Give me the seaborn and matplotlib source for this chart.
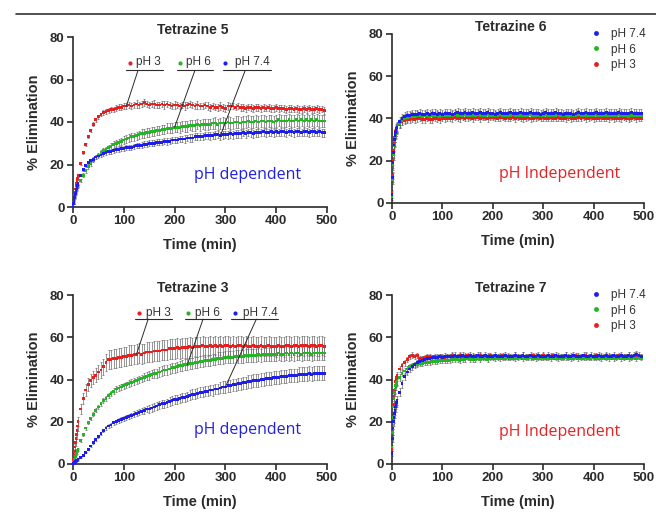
import numpy as np
import pandas as pd
import seaborn as sns
import matplotlib.pyplot as plt
from matplotlib.lines import Line2D

# sampling times (min): every minute for the first 10, then every 5 min
time_min = [0, 1, 2, 3, 4, 5, 6, 7, 8, 9, 10,
            15, 20, 25, 30, 35, 40, 45, 50, 55, 60,
            65, 70, 75, 80, 85, 90, 95, 100, 105, 110,
            115, 120, 125, 130, 135, 140, 145, 150, 155, 160,
            165, 170, 175, 180, 185, 190, 195, 200, 205, 210,
            215, 220, 225, 230, 235, 240, 245, 250, 255, 260,
            265, 270, 275, 280, 285, 290, 295, 300, 305, 310,
            315, 320, 325, 330, 335, 340, 345, 350, 355, 360,
            365, 370, 375, 380, 385, 390, 395, 400, 405, 410,
            415, 420, 425, 430, 435, 440, 445, 450, 455, 460,
            465, 470, 475, 480, 485, 490, 495]

# ---- Tetrazine 5 ----
t5_ph3 = [0, 2, 4, 5.5, 7, 8.5, 10, 11, 12.5, 13.5, 15,
          20.5, 25.5, 29.5, 33, 36, 39, 41, 42.5, 43.5, 44.5,
          45, 45.5, 46, 46, 46.5, 47, 47, 47.5, 47.5, 48,
          47.5, 48, 48.5, 48, 48.5, 49, 48.5, 48, 48.5, 48.5,
          48, 48, 48.5, 48, 48.5, 48, 47.5, 48, 48, 47.5,
          48, 47.5, 48, 48.5, 48, 47.5, 48, 47.5, 47.5, 48,
          47.5, 47, 47.5, 47, 47, 47.5, 47, 46.5, 47.5, 47.5,
          47.5, 47, 47.5, 47, 47, 46.5, 47, 47, 46.5, 47,
          47, 46.5, 47, 46.5, 47, 46.5, 46.5, 47, 46.5, 46.5,
          46.5, 46, 46.5, 46.5, 46, 46.5, 46, 46, 46.5, 46,
          46.5, 46, 46, 46.5, 46, 46, 45.5]
t5_ph3_sd = [0.3, 0.4, 0.4, 0.5, 0.5, 0.5, 0.6, 0.6, 0.6, 0.7, 0.7,
             0.5, 0.6, 0.6, 0.7, 0.7, 0.8, 0.8, 0.9, 0.9, 1.0,
             1.1, 1.1, 1.2, 1.2, 1.3, 1.3, 1.4, 1.4, 1.5, 1.4,
             1.6, 1.5, 1.7, 1.6, 1.6, 1.7, 1.6, 1.5, 1.6, 1.7,
             1.6, 1.5, 1.6, 1.7, 1.6, 1.5, 1.6, 1.7, 1.6, 1.5,
             1.6, 1.7, 1.6, 1.5, 1.6, 1.6, 1.7, 1.6, 1.5, 1.6,
             1.7, 1.6, 1.6, 1.5, 1.6, 1.7, 1.6, 1.6, 1.7, 1.6,
             1.6, 1.5, 1.6, 1.7, 1.6, 1.6, 1.5, 1.6, 1.7, 1.6,
             1.6, 1.7, 1.6, 1.5, 1.6, 1.6, 1.7, 1.6, 1.6, 1.5,
             1.6, 1.6, 1.7, 1.6, 1.5, 1.6, 1.6, 1.7, 1.6, 1.6,
             1.5, 1.6, 1.7, 1.6, 1.6, 1.5, 1.6]
t5_ph6 = [0, 1.5, 3, 4, 5, 6, 7, 8, 8.5, 9.5, 10,
          12.5, 15, 17, 19, 20.5, 22, 23.5, 24.5, 25.5, 26.5,
          27, 28, 28.5, 29.5, 30, 30.5, 31, 31.5, 32, 32.5,
          33, 33, 33.5, 34, 34.5, 34.5, 35, 35, 35.5, 35.5,
          36, 36, 36.5, 36.5, 37, 37, 37, 37.5, 37.5, 37.5,
          38, 38, 38, 38.5, 38.5, 38.5, 39, 38.5, 39, 39,
          39, 39, 39.5, 39.5, 39, 39.5, 39.5, 39.5, 40, 39.5,
          39.5, 40, 40, 39.5, 40, 40, 40.5, 40, 40, 40.5,
          40, 40.5, 40.5, 40, 40.5, 40.5, 40, 40.5, 41, 40.5,
          40.5, 40.5, 41, 40.5, 40.5, 41, 40.5, 41, 40.5, 41,
          40.5, 41, 40.5, 41, 40.5, 40.5, 40.5]
t5_ph6_sd = [0.3, 0.3, 0.4, 0.4, 0.5, 0.5, 0.5, 0.6, 0.6, 0.6, 0.7,
             0.8, 0.8, 0.9, 0.9, 1.0, 1.0, 1.1, 1.1, 1.2, 1.2,
             1.3, 1.4, 1.4, 1.5, 1.5, 1.6, 1.6, 1.7, 1.7, 1.8,
             1.8, 1.9, 1.9, 2.0, 2.0, 2.1, 2.1, 2.2, 2.1, 2.2,
             2.2, 2.3, 2.2, 2.3, 2.3, 2.4, 2.3, 2.4, 2.4, 2.5,
             2.4, 2.5, 2.5, 2.4, 2.5, 2.6, 2.5, 2.6, 2.5, 2.6,
             2.6, 2.5, 2.6, 2.7, 2.6, 2.6, 2.7, 2.6, 2.7, 2.7,
             2.6, 2.7, 2.8, 2.7, 2.7, 2.8, 2.7, 2.8, 2.7, 2.8,
             2.8, 2.7, 2.8, 2.8, 2.9, 2.8, 2.8, 2.9, 2.8, 2.8,
             2.9, 2.8, 2.8, 2.9, 2.8, 2.9, 2.8, 2.9, 2.9, 2.8,
             2.9, 2.8, 2.9, 2.8, 2.9, 2.8, 2.9]
t5_ph74 = [0, 1.5, 3, 4.5, 5.5, 6.5, 7.5, 8.5, 9.5, 10, 11,
           15, 17.5, 19.5, 21, 22, 22.5, 23.5, 24, 24.5, 25,
           25.5, 26, 26, 26.5, 27, 27, 27.5, 27.5, 28, 28,
           28, 28.5, 29, 29, 29, 29.5, 29.5, 30, 30, 30,
           30.5, 30.5, 30.5, 31, 31, 31, 31.5, 31.5, 31.5, 32,
           32, 32, 32.5, 32.5, 32.5, 33, 33, 33, 33, 33.5,
           33.5, 33.5, 33.5, 34, 34, 33.5, 34, 34, 34, 34.5,
           34, 34.5, 34.5, 34.5, 35, 34.5, 35, 35, 34.5, 35,
           35, 35, 35.5, 35, 35, 35.5, 35, 35.5, 35, 35.5,
           35.5, 35, 35.5, 35.5, 35, 35.5, 35.5, 35, 35.5, 35.5,
           35, 35.5, 35.5, 35, 35.5, 35, 35]
t5_ph74_sd = [0.3, 0.3, 0.3, 0.4, 0.4, 0.4, 0.5, 0.5, 0.5, 0.5, 0.6,
              0.6, 0.7, 0.7, 0.7, 0.8, 0.8, 0.8, 0.9, 0.9, 0.9,
              1.0, 1.0, 1.0, 1.1, 1.1, 1.1, 1.2, 1.2, 1.2, 1.2,
              1.3, 1.3, 1.3, 1.3, 1.4, 1.4, 1.4, 1.4, 1.4, 1.5,
              1.5, 1.5, 1.5, 1.5, 1.6, 1.5, 1.6, 1.6, 1.6, 1.6,
              1.6, 1.7, 1.6, 1.7, 1.7, 1.7, 1.6, 1.7, 1.7, 1.7,
              1.7, 1.8, 1.7, 1.8, 1.7, 1.8, 1.8, 1.7, 1.8, 1.8,
              1.8, 1.8, 1.9, 1.8, 1.8, 1.9, 1.8, 1.9, 1.8, 1.9,
              1.9, 1.8, 1.9, 1.9, 1.8, 1.9, 1.9, 1.9, 1.8, 1.9,
              1.9, 1.9, 1.8, 1.9, 1.9, 1.9, 1.9, 1.8, 1.9, 1.9,
              1.9, 1.9, 1.9, 1.8, 1.9, 1.9, 1.9]

# ---- Tetrazine 6 ----
t6_ph74 = [4, 12, 19, 24, 27.5, 30, 32, 33.5, 34.5, 35.5, 36,
           38.5, 40, 41, 41.5, 41.5, 42, 42, 42, 42.5, 42,
           42, 42.5, 42, 42.5, 42.5, 42, 42.5, 42, 42.5, 42.5,
           42.5, 42, 42.5, 43, 42.5, 42.5, 43, 42.5, 42.5, 43,
           42.5, 42.5, 43, 42.5, 42.5, 43, 42.5, 42.5, 42, 42.5,
           43, 42.5, 42.5, 42.5, 43, 42.5, 42.5, 42.5, 43, 42.5,
           42.5, 42.5, 43, 42.5, 42.5, 42.5, 42, 42.5, 43, 42.5,
           42.5, 42.5, 43, 42.5, 42.5, 42, 42.5, 42.5, 42.5, 42,
           42.5, 43, 42.5, 42.5, 43, 42.5, 42.5, 42.5, 43, 42.5,
           42.5, 42.5, 43, 42.5, 42.5, 42.5, 42.5, 43, 42.5, 42.5,
           42.5, 42.5, 43, 42.5, 42.5, 42.5, 42.5]
t6_ph74_sd = [1.5, 2.0, 2.5, 2.8, 3.0, 3.0, 3.0, 2.8, 2.8, 2.6, 2.5,
              2.4, 2.3, 2.2, 2.2, 2.1, 2.1, 2.0, 2.1, 2.0, 2.0,
              2.1, 2.0, 2.0, 2.1, 2.0, 2.0, 2.1, 2.0, 2.1, 2.0,
              2.0, 2.1, 2.0, 2.0, 2.1, 2.0, 2.1, 2.0, 2.0, 2.1,
              2.0, 2.1, 2.0, 2.0, 2.1, 2.0, 2.0, 2.1, 2.0, 2.0,
              2.1, 2.0, 2.0, 2.1, 2.0, 2.1, 2.0, 2.0, 2.1, 2.0,
              2.0, 2.1, 2.0, 2.0, 2.1, 2.0, 2.0, 2.1, 2.0, 2.1,
              2.0, 2.0, 2.1, 2.0, 2.0, 2.1, 2.0, 2.0, 2.1, 2.0,
              2.1, 2.0, 2.0, 2.1, 2.0, 2.0, 2.1, 2.0, 2.0, 2.1,
              2.0, 2.0, 2.1, 2.0, 2.1, 2.0, 2.0, 2.1, 2.0, 2.0,
              2.1, 2.0, 2.0, 2.1, 2.0, 2.0, 2.1]
t6_ph6 = [3, 11, 18, 23, 27, 29.5, 31.5, 33, 34, 35, 35.5,
          37.5, 39, 40, 40.5, 41, 41, 41, 41.5, 41.5, 41,
          41.5, 41.5, 41, 41.5, 41.5, 41.5, 41, 41.5, 41.5, 41.5,
          41.5, 41.5, 42, 41.5, 41.5, 41.5, 42, 41.5, 41.5, 41.5,
          41.5, 42, 41.5, 41.5, 41.5, 42, 41.5, 41.5, 41.5, 41.5,
          42, 41.5, 41.5, 41.5, 41.5, 42, 41.5, 41.5, 41.5, 41.5,
          41.5, 41.5, 42, 41.5, 41.5, 41.5, 41.5, 41.5, 42, 41.5,
          41.5, 41.5, 41.5, 42, 41.5, 41.5, 41.5, 41, 41.5, 41.5,
          41.5, 42, 41.5, 41.5, 41.5, 41.5, 41.5, 41.5, 42, 41.5,
          41.5, 41.5, 41.5, 41.5, 41.5, 41.5, 41.5, 42, 41.5, 41.5,
          41.5, 41, 41.5, 41.5, 41.5, 41.5, 41.5]
t6_ph6_sd = [1.5, 2.0, 2.4, 2.6, 2.8, 2.8, 2.7, 2.6, 2.5, 2.4, 2.3,
             2.2, 2.1, 2.0, 2.0, 1.9, 1.9, 1.8, 1.9, 1.8, 1.8,
             1.9, 1.8, 1.8, 1.9, 1.8, 1.9, 1.8, 1.8, 1.9, 1.8,
             1.8, 1.9, 1.8, 1.8, 1.9, 1.8, 1.8, 1.9, 1.8, 1.9,
             1.8, 1.8, 1.9, 1.8, 1.8, 1.9, 1.8, 1.8, 1.9, 1.8,
             1.9, 1.8, 1.8, 1.9, 1.8, 1.8, 1.9, 1.8, 1.8, 1.9,
             1.8, 1.8, 1.9, 1.8, 1.9, 1.8, 1.8, 1.9, 1.8, 1.8,
             1.9, 1.8, 1.8, 1.9, 1.8, 1.8, 1.9, 1.8, 1.9, 1.8,
             1.8, 1.9, 1.8, 1.8, 1.9, 1.8, 1.8, 1.9, 1.8, 1.8,
             1.9, 1.8, 1.8, 1.9, 1.8, 1.9, 1.8, 1.8, 1.9, 1.8,
             1.8, 1.9, 1.8, 1.8, 1.9, 1.8, 1.8]
t6_ph3 = [5, 13, 20, 25, 28.5, 31, 33, 34, 35, 35.5, 36,
          37, 38.5, 39, 39.5, 39.5, 40, 39.5, 40, 40, 39.5,
          39.5, 40, 39.5, 39.5, 40, 40, 39.5, 40, 40, 40,
          40, 40, 40.5, 40, 40, 40.5, 40, 40.5, 40.5, 40,
          40.5, 40.5, 40, 40.5, 40.5, 40, 40.5, 40.5, 40.5, 40,
          40.5, 40.5, 40, 40.5, 40, 40.5, 40, 40.5, 40, 40,
          40, 40.5, 40, 40, 40.5, 40.5, 40, 40.5, 40, 40,
          40.5, 40, 40, 40.5, 40, 40, 40, 40.5, 40, 40,
          40, 40.5, 40, 40.5, 40, 40, 40.5, 40, 40, 40,
          40.5, 40, 40, 40, 40.5, 40, 40, 40, 40, 40.5,
          40, 40, 40, 40.5, 40, 40, 40]
t6_ph3_sd = [1.2, 1.6, 2.0, 2.2, 2.3, 2.3, 2.2, 2.1, 2.0, 1.9, 1.8,
             1.7, 1.6, 1.6, 1.5, 1.5, 1.5, 1.4, 1.5, 1.4, 1.4,
             1.5, 1.4, 1.4, 1.5, 1.4, 1.5, 1.4, 1.4, 1.5, 1.4,
             1.4, 1.5, 1.4, 1.4, 1.5, 1.4, 1.4, 1.5, 1.4, 1.5,
             1.4, 1.4, 1.5, 1.4, 1.4, 1.5, 1.4, 1.4, 1.5, 1.4,
             1.5, 1.4, 1.4, 1.5, 1.4, 1.4, 1.5, 1.4, 1.4, 1.5,
             1.4, 1.4, 1.5, 1.4, 1.5, 1.4, 1.4, 1.5, 1.4, 1.4,
             1.5, 1.4, 1.4, 1.5, 1.4, 1.4, 1.5, 1.4, 1.5, 1.4,
             1.4, 1.5, 1.4, 1.4, 1.5, 1.4, 1.4, 1.5, 1.4, 1.4,
             1.5, 1.4, 1.4, 1.5, 1.4, 1.5, 1.4, 1.4, 1.5, 1.4,
             1.4, 1.5, 1.4, 1.4, 1.5, 1.4, 1.4]

# ---- Tetrazine 3 ----
t3_ph3 = [0, 2, 4, 6, 8, 10, 12, 14, 16, 18, 20,
          26, 31, 35, 37.5, 39.5, 41, 42, 43.5, 44.5, 46,
          48, 49.5, 49.5, 50, 50, 50.5, 50.5, 51, 51, 51.5,
          51.5, 52, 52, 52.5, 52, 52.5, 53, 53, 53, 53.5,
          53.5, 53.5, 54, 54, 54, 54.5, 54.5, 54.5, 55, 54.5,
          55, 55, 55, 55.5, 55, 55.5, 55.5, 55.5, 56, 55.5,
          55.5, 56, 55.5, 56, 55.5, 56, 55.5, 56, 56, 55.5,
          56, 55.5, 56, 56, 55.5, 56, 55.5, 55.5, 56, 55.5,
          55.5, 56, 55.5, 55.5, 56, 55.5, 55.5, 55.5, 56, 55.5,
          55.5, 56, 56, 55.5, 56, 56, 55.5, 56, 56, 56,
          55.5, 56, 56, 55.5, 56, 56, 55.5]
t3_ph3_sd = [0.5, 0.8, 1.0, 1.2, 1.4, 1.6, 1.8, 2.0, 2.0, 2.2, 2.2,
             2.4, 2.6, 2.8, 3.0, 3.0, 3.2, 3.4, 3.4, 3.6, 3.8,
             4.2, 4.4, 4.5, 4.4, 4.5, 4.6, 4.5, 4.6, 4.5, 4.6,
             4.6, 4.5, 4.6, 4.7, 4.6, 4.5, 4.6, 4.7, 4.6, 4.6,
             4.7, 4.6, 4.6, 4.7, 4.6, 4.7, 4.6, 4.6, 4.7, 4.6,
             4.6, 4.7, 4.6, 4.6, 4.7, 4.6, 4.7, 4.6, 4.6, 4.7,
             4.6, 4.6, 4.7, 4.6, 4.7, 4.6, 4.6, 4.7, 4.6, 4.6,
             4.7, 4.6, 4.6, 4.7, 4.6, 4.6, 4.7, 4.6, 4.7, 4.6,
             4.6, 4.7, 4.6, 4.6, 4.7, 4.6, 4.6, 4.7, 4.6, 4.6,
             4.7, 4.6, 4.6, 4.7, 4.6, 4.7, 4.6, 4.6, 4.7, 4.6,
             4.6, 4.7, 4.6, 4.6, 4.7, 4.6, 4.6]
t3_ph6 = [0, 0.8, 1.5, 2.3, 3, 3.8, 4.5, 5.2, 6, 6.5, 7,
          11, 14, 17, 19.5, 21.5, 23.5, 25.5, 27, 28.5, 30,
          31, 32.5, 33.5, 34.5, 35.5, 36, 36.5, 37, 37.5, 38,
          38.5, 39, 39.5, 40, 40.5, 41, 41.5, 42, 42.5, 43,
          43, 43.5, 44, 44.5, 44.5, 45, 45.5, 45.5, 46, 46.5,
          46.5, 47, 47, 47.5, 47.5, 48, 48, 48.5, 48.5, 49,
          49, 49, 49.5, 49.5, 50, 50, 50, 50.5, 50.5, 50.5,
          50.5, 51, 51, 51, 51, 51.5, 51.5, 51.5, 51.5, 51.5,
          52, 51.5, 52, 52, 52, 52, 52, 52, 52.5, 52,
          52, 52.5, 52, 52.5, 52, 52.5, 52.5, 52, 52.5, 52.5,
          52.5, 52, 52.5, 52.5, 52.5, 52.5, 52.5]
t3_ph6_sd = [0.2, 0.2, 0.3, 0.3, 0.3, 0.4, 0.4, 0.4, 0.5, 0.5, 0.5,
             0.6, 0.7, 0.7, 0.8, 0.8, 0.9, 0.9, 1.0, 1.0, 1.1,
             1.1, 1.2, 1.2, 1.3, 1.3, 1.4, 1.4, 1.5, 1.5, 1.6,
             1.6, 1.7, 1.7, 1.8, 1.8, 1.9, 1.9, 2.0, 2.0, 2.1,
             2.1, 2.2, 2.2, 2.2, 2.3, 2.3, 2.3, 2.4, 2.4, 2.4,
             2.5, 2.5, 2.5, 2.5, 2.6, 2.6, 2.6, 2.6, 2.7, 2.7,
             2.7, 2.7, 2.8, 2.8, 2.8, 2.8, 2.8, 2.9, 2.9, 2.9,
             2.9, 2.9, 3.0, 3.0, 3.0, 3.0, 3.0, 3.0, 3.1, 3.1,
             3.1, 3.1, 3.1, 3.1, 3.1, 3.2, 3.2, 3.2, 3.2, 3.2,
             3.2, 3.2, 3.2, 3.3, 3.3, 3.3, 3.3, 3.3, 3.3, 3.3,
             3.3, 3.3, 3.3, 3.3, 3.3, 3.3, 3.3]
t3_ph74 = [0, 0.2, 0.5, 0.6, 0.9, 1.1, 1.2, 1.5, 1.6, 1.9, 2.1,
           3, 4, 5.5, 7, 8.5, 10, 11.5, 13, 14.5, 16,
           17, 18, 18.5, 19.5, 20, 20.5, 21, 21.5, 22, 22.5,
           23, 23.5, 24, 24.5, 25, 25.5, 26, 26, 26.5, 27,
           27.5, 28, 28.5, 28.5, 29, 29.5, 30, 30.5, 30.5, 31,
           31.5, 31.5, 32, 32.5, 33, 33, 33.5, 34, 34, 34.5,
           34.5, 35, 35, 35.5, 35.5, 36, 36.5, 36.5, 37, 37,
           37.5, 37.5, 38, 38, 38.5, 38.5, 39, 39, 39.5, 39.5,
           39.5, 40, 40, 40.5, 40.5, 40.5, 41, 41, 41, 41.5,
           41.5, 41.5, 42, 42, 42, 42, 42.5, 42.5, 42.5, 42.5,
           43, 42.5, 43, 43, 43, 43, 43]
t3_ph74_sd = [0.1, 0.1, 0.1, 0.1, 0.2, 0.2, 0.2, 0.2, 0.2, 0.3, 0.3,
              0.3, 0.4, 0.4, 0.5, 0.5, 0.6, 0.6, 0.7, 0.7, 0.8,
              0.8, 0.9, 0.9, 1.0, 1.0, 1.1, 1.1, 1.2, 1.2, 1.3,
              1.3, 1.4, 1.4, 1.5, 1.5, 1.6, 1.6, 1.7, 1.7, 1.8,
              1.8, 1.9, 1.9, 2.0, 2.0, 2.0, 2.1, 2.1, 2.1, 2.2,
              2.2, 2.2, 2.3, 2.3, 2.3, 2.4, 2.4, 2.4, 2.5, 2.5,
              2.5, 2.5, 2.6, 2.6, 2.6, 2.6, 2.7, 2.7, 2.7, 2.7,
              2.8, 2.8, 2.8, 2.8, 2.8, 2.9, 2.9, 2.9, 2.9, 2.9,
              3.0, 3.0, 3.0, 3.0, 3.0, 3.0, 3.1, 3.1, 3.1, 3.1,
              3.1, 3.1, 3.1, 3.2, 3.2, 3.2, 3.2, 3.2, 3.2, 3.2,
              3.2, 3.2, 3.2, 3.2, 3.2, 3.2, 3.2]

# ---- Tetrazine 7 ----
t7_ph74 = [5, 12, 17, 20, 22, 24, 25.5, 27, 28, 29, 30,
           34, 38, 41.5, 43.5, 45, 46, 47, 48, 48.5, 49,
           49.5, 50, 50, 50.5, 50.5, 50.5, 51, 50.5, 51, 51,
           51, 51, 51.5, 51, 51, 51.5, 51, 51, 51.5, 51,
           51, 51.5, 51, 51, 51.5, 51, 51, 51, 51.5, 51,
           51, 51, 51.5, 51, 51, 51, 51.5, 51, 51, 51.5,
           51, 51, 51.5, 51, 51, 51.5, 51, 51, 51, 51.5,
           51, 51, 51.5, 51, 51, 51, 51.5, 51, 51, 51.5,
           51, 51, 51, 51.5, 51, 51, 51.5, 51, 51, 51.5,
           51, 51, 51.5, 51, 51, 51.5, 51, 51, 51.5, 51,
           51, 51.5, 51, 51.5, 52, 51.5, 51]
t7_ph74_sd = [1.0, 1.5, 2.0, 2.2, 2.4, 2.4, 2.3, 2.2, 2.1, 2.0, 2.0,
              1.9, 1.8, 1.7, 1.6, 1.5, 1.5, 1.4, 1.4, 1.4, 1.3,
              1.3, 1.3, 1.4, 1.3, 1.3, 1.4, 1.3, 1.3, 1.4, 1.3,
              1.3, 1.4, 1.3, 1.3, 1.4, 1.3, 1.4, 1.3, 1.3, 1.4,
              1.3, 1.3, 1.4, 1.3, 1.3, 1.4, 1.3, 1.3, 1.4, 1.3,
              1.4, 1.3, 1.3, 1.4, 1.3, 1.3, 1.4, 1.3, 1.3, 1.4,
              1.3, 1.3, 1.4, 1.3, 1.4, 1.3, 1.3, 1.4, 1.3, 1.3,
              1.4, 1.3, 1.3, 1.4, 1.3, 1.3, 1.4, 1.3, 1.4, 1.3,
              1.3, 1.4, 1.3, 1.3, 1.4, 1.3, 1.3, 1.4, 1.3, 1.3,
              1.4, 1.3, 1.3, 1.4, 1.3, 1.4, 1.3, 1.3, 1.4, 1.3,
              1.3, 1.4, 1.3, 1.3, 1.4, 1.3, 1.3]
t7_ph6 = [8, 15, 22, 27, 31, 34, 35.5, 37, 38, 38.5, 39,
          41, 43, 44, 45, 46, 46.5, 47, 47, 47.5, 47.5,
          48, 48, 48, 48.5, 48.5, 48.5, 49, 49, 49, 49,
          49, 49.5, 49.5, 49.5, 49, 49.5, 49.5, 50, 49.5, 49.5,
          49.5, 50, 49.5, 50, 50, 49.5, 50, 50, 50, 50,
          50, 50, 50, 50.5, 50, 50, 50, 50, 50.5, 50,
          50, 50, 50.5, 50, 50, 50, 50, 50.5, 50, 50,
          50, 50.5, 50, 50, 50, 50, 50.5, 50, 50, 50,
          50.5, 50, 50, 50, 50.5, 50, 50, 50.5, 50, 50,
          50, 50.5, 50, 50, 50.5, 50, 50, 50.5, 50, 50,
          50.5, 50, 50, 50.5, 50, 50.5, 50]
t7_ph6_sd = [1.0, 1.5, 1.8, 2.0, 2.0, 2.0, 1.9, 1.8, 1.7, 1.6, 1.6,
             1.5, 1.4, 1.4, 1.3, 1.3, 1.2, 1.2, 1.2, 1.1, 1.1,
             1.1, 1.1, 1.0, 1.1, 1.0, 1.1, 1.0, 1.0, 1.1, 1.0,
             1.0, 1.1, 1.0, 1.0, 1.1, 1.0, 1.1, 1.0, 1.0, 1.1,
             1.0, 1.0, 1.1, 1.0, 1.0, 1.1, 1.0, 1.0, 1.1, 1.0,
             1.1, 1.0, 1.0, 1.1, 1.0, 1.0, 1.1, 1.0, 1.0, 1.1,
             1.0, 1.0, 1.1, 1.0, 1.1, 1.0, 1.0, 1.1, 1.0, 1.0,
             1.1, 1.0, 1.0, 1.1, 1.0, 1.0, 1.1, 1.0, 1.1, 1.0,
             1.0, 1.1, 1.0, 1.0, 1.1, 1.0, 1.0, 1.1, 1.0, 1.0,
             1.1, 1.0, 1.0, 1.1, 1.0, 1.1, 1.0, 1.0, 1.1, 1.0,
             1.0, 1.1, 1.0, 1.0, 1.1, 1.0, 1.0]
t7_ph3 = [7, 15, 22, 28, 32, 35, 37, 39, 40, 41, 42,
          45, 46.5, 48, 49.5, 51, 51.5, 51, 51.5, 50, 50,
          50.5, 51, 51, 50.5, 51, 50.5, 51, 51, 50.5, 51,
          51, 51.5, 51, 51, 51.5, 51, 51, 51.5, 51, 51,
          51, 51, 51.5, 51, 51, 51, 51.5, 51, 51, 51,
          51, 51.5, 51, 51, 51, 51, 51.5, 51, 51, 51.5,
          51, 51, 51, 51.5, 51, 51, 51, 51.5, 51, 51,
          51, 51.5, 51, 51, 51, 51, 51.5, 51, 51, 51,
          51.5, 51, 51, 51, 51.5, 51, 51, 51, 51.5, 51,
          51, 51, 51.5, 51, 51, 51, 51, 51.5, 51, 51,
          51, 51.5, 51, 51, 51.5, 51, 51]
t7_ph3_sd = [1.0, 1.5, 1.8, 2.0, 2.0, 1.9, 1.8, 1.7, 1.6, 1.6, 1.5,
             1.5, 1.4, 1.4, 1.3, 1.3, 1.3, 1.2, 1.2, 1.2, 1.2,
             1.2, 1.2, 1.3, 1.2, 1.2, 1.3, 1.2, 1.2, 1.3, 1.2,
             1.2, 1.3, 1.2, 1.2, 1.3, 1.2, 1.3, 1.2, 1.2, 1.3,
             1.2, 1.2, 1.3, 1.2, 1.2, 1.3, 1.2, 1.2, 1.3, 1.2,
             1.3, 1.2, 1.2, 1.3, 1.2, 1.2, 1.3, 1.2, 1.2, 1.3,
             1.2, 1.2, 1.3, 1.2, 1.3, 1.2, 1.2, 1.3, 1.2, 1.2,
             1.3, 1.2, 1.2, 1.3, 1.2, 1.2, 1.3, 1.2, 1.3, 1.2,
             1.2, 1.3, 1.2, 1.2, 1.3, 1.2, 1.2, 1.3, 1.2, 1.2,
             1.3, 1.2, 1.2, 1.3, 1.2, 1.3, 1.2, 1.2, 1.3, 1.2,
             1.2, 1.3, 1.2, 1.2, 1.3, 1.2, 1.2]

palette = {"pH 3": "#ee1d1d", "pH 6": "#22b622", "pH 7.4": "#1d1dee"}
ink = "#2b2b2b"

sns.set_style("ticks")
plt.rcParams["font.family"] = ["Liberation Sans", "DejaVu Sans"]

fig = plt.figure(figsize=(6.56, 5.14), dpi=100)


def draw_panel(rect, title, series, note, note_color, note_xy):
    ax = fig.add_axes(rect)
    frames = []
    for name, vals, sds in series:
        ax.errorbar(time_min, vals, yerr=sds, fmt="none", ecolor="#6a6a6a",
                    elinewidth=0.5, capsize=1.0, capthick=0.5, zorder=2)
        frames.append(pd.DataFrame({"time": time_min, "value": vals, "pH": name}))
    df = pd.concat(frames, ignore_index=True)
    sns.scatterplot(data=df, x="time", y="value", hue="pH", palette=palette,
                    marker="s", s=4, linewidth=0, legend=False, ax=ax,
                    zorder=3, clip_on=False)
    ax.set_xlim(0, 500)
    ax.set_ylim(0, 80)
    ax.set_xticks([0, 100, 200, 300, 400, 500])
    ax.set_yticks([0, 20, 40, 60, 80])
    sns.despine(ax=ax)
    for sp in ("left", "bottom"):
        ax.spines[sp].set_linewidth(1.2)
        ax.spines[sp].set_color(ink)
    ax.tick_params(length=4, width=1.2, color=ink, labelsize=9.5, pad=2)
    for lab in ax.get_xticklabels() + ax.get_yticklabels():
        lab.set_fontweight("bold")
        lab.set_color(ink)
    ax.set_xlabel("Time (min)", fontsize=10.5, fontweight="bold", color=ink, labelpad=8)
    ax.set_ylabel("% Elimination", fontsize=10.5, fontweight="bold", color=ink, labelpad=6)
    ax.set_title(title, fontsize=10, fontweight="bold", color=ink, x=0.47, pad=1)
    ax.text(note_xy[0], note_xy[1], note, color=note_color, fontsize=11.5,
            family="Open Sans", va="center", ha="left")
    return ax


def label_curve(ax, name, vals, dot_x, text_x, text_y, line_x0, line_x1, line_y, lead_x, tip_t):
    tip_v = vals[time_min.index(tip_t)]
    ax.plot([dot_x], [text_y], "o", color=palette[name], ms=3, mew=0, clip_on=False)
    ax.text(text_x, text_y, name, fontsize=8.5, color="#333333", va="center", ha="left")
    ax.plot([line_x0, line_x1], [line_y, line_y], color=ink, lw=0.8, clip_on=False)
    ax.plot([lead_x, tip_t], [line_y, tip_v], color=ink, lw=0.7, zorder=4)


def side_legend(ax):
    handles = [Line2D([], [], ls="", marker="o", ms=3.5, mew=0, color=palette[k])
               for k in ["pH 7.4", "pH 6", "pH 3"]]
    leg = ax.legend(handles, ["pH 7.4", "pH 6", "pH 3"], loc="upper left",
                    bbox_to_anchor=(0.79, 1.035), frameon=False, fontsize=8.5,
                    handlelength=0.8, handletextpad=0.9, labelspacing=0.3,
                    borderpad=0, borderaxespad=0)
    for t in leg.get_texts():
        t.set_color("#333333")


W, H = 656, 514


def rect(x0, y0, x1, y1):
    return [x0 / W, 1 - y1 / H, (x1 - x0) / W, (y1 - y0) / H]


ax1 = draw_panel(rect(73, 37, 327, 207), "Tetrazine 5",
                 [("pH 3", t5_ph3, t5_ph3_sd), ("pH 6", t5_ph6, t5_ph6_sd),
                  ("pH 7.4", t5_ph74, t5_ph74_sd)],
                 "pH dependent", "#2222dd", (238, 15))
label_curve(ax1, "pH 3", t5_ph3, 113, 125, 68, 105, 178, 64.3, 128, 105)
label_curve(ax1, "pH 6", t5_ph6, 210, 223, 68, 204, 276, 64.3, 240, 200)
label_curve(ax1, "pH 7.4", t5_ph74, 300, 318, 68, 295, 389, 64.3, 339, 290)

ax2 = draw_panel(rect(392, 34, 644, 203), "Tetrazine 6",
                 [("pH 3", t6_ph3, t6_ph3_sd), ("pH 6", t6_ph6, t6_ph6_sd),
                  ("pH 7.4", t6_ph74, t6_ph74_sd)],
                 "pH Independent", "#e52222", (212, 13.5))
side_legend(ax2)

ax3 = draw_panel(rect(73, 295, 327, 464), "Tetrazine 3",
                 [("pH 3", t3_ph3, t3_ph3_sd), ("pH 6", t3_ph6, t3_ph6_sd),
                  ("pH 7.4", t3_ph74, t3_ph74_sd)],
                 "pH dependent", "#2222dd", (238, 16))
label_curve(ax3, "pH 3", t3_ph3, 129, 143, 71.3, 122, 194, 68.6, 148, 125)
label_curve(ax3, "pH 6", t3_ph6, 227, 240, 71.3, 220, 292, 68.6, 256, 225)
label_curve(ax3, "pH 7.4", t3_ph74, 319, 334, 71.3, 312, 404, 68.6, 361, 300)

ax4 = draw_panel(rect(392, 295, 644, 464), "Tetrazine 7",
                 [("pH 3", t7_ph3, t7_ph3_sd), ("pH 6", t7_ph6, t7_ph6_sd),
                  ("pH 7.4", t7_ph74, t7_ph74_sd)],
                 "pH Independent", "#e52222", (212, 15))
side_legend(ax4)

# rule across the top of the figure
fig.add_artist(Line2D([16 / W, 1], [1 - 14 / H, 1 - 14 / H], color="#333333", lw=1.2))

fig.savefig("out.png", dpi=100)
